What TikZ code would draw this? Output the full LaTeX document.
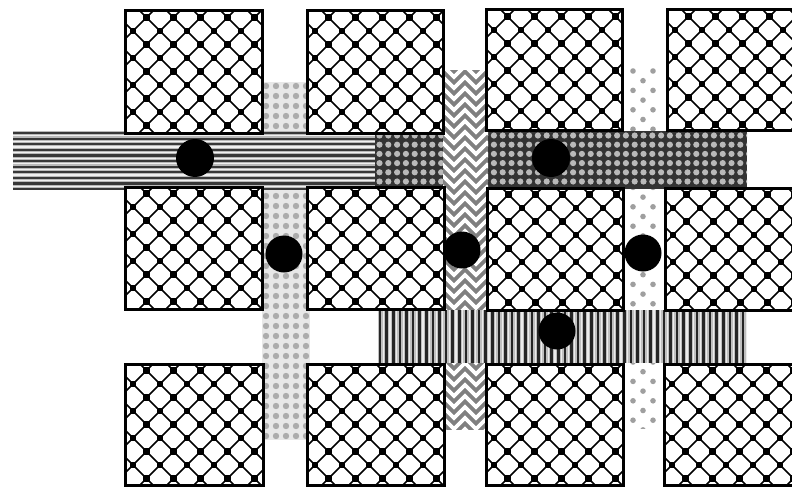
\documentclass[tikz,border=0pt]{standalone}
\tikzset{
  sqborder/.style={draw=black, line width=3pt},
  hatch/.style={black, line width=1.7pt},
  via/.style={circle, fill=black, inner sep=0pt, minimum size=37pt},
}
\newcommand\xsq[4]{%
  \begin{scope}
    \clip (#1,#2) rectangle (#3,#4);
    \fill[white] (#1,#2) rectangle (#3,#4);
    \begin{scope}[shift={(#1,#2)}]
      \foreach \n in {-6,...,9} {\draw[hatch] ({-12+27*\n-20},-20) -- ++(200,200);}
      \foreach \n in {-2,...,11} {\draw[hatch] ({28+27*\n+20},-20) -- ++(-200,200);}
      \foreach \i in {-1,...,5} {\foreach \j in {-1,...,5} {
        \fill ({8+27*\i-3.3},{20+27*\j-3.3}) rectangle ++(6.6,6.6);
        \fill ({21.5+27*\i-3.3},{6.5+27*\j-3.3}) rectangle ++(6.6,6.6);}}
    \end{scope}
  \end{scope}
  \draw[sqborder] (#1,#2) rectangle (#3,#4);
}
\begin{document}
\begin{tikzpicture}[x=1pt,y=-1pt]
\useasboundingbox (0,0) rectangle (792,487);
\clip (0,0) rectangle (792,487);

% V1: light dense dots
\begin{scope}
  \clip (262,82) rectangle (310,440);
  \fill[gray!18] (262,82) rectangle (310,440);
  \foreach \x in {266,276,...,306} {\foreach \y in {86,96,...,436} {\fill[gray!65] (\x,\y) circle (3.2pt);}}
\end{scope}

% V3: sparse dots
\begin{scope}
  \clip (623,67) rectangle (667,428);
  \fill[white] (623,67) rectangle (667,428);
  \foreach \y in {71,90.4,...,430} {\fill[gray!75] (633,\y) circle (2.8pt); \fill[gray!75] (653,\y) circle (2.8pt);}
  \foreach \y in {80.7,100.1,...,430} {\fill[gray!75] (643,\y) circle (2.8pt);}
\end{scope}

% B1: horizontal stripes
\begin{scope}
  \clip (13,131) rectangle (375,189);
  \fill[gray!55] (13,131) rectangle (375,189);
  \foreach \y in {133,138.6,...,190} {
    \draw[black!78, line width=2.2pt] (13,\y) -- (375,\y);
    \draw[gray!12, line width=1.2pt] (13,\y+2.8) -- (375,\y+2.8);}
\end{scope}

% B2: dark dots
\begin{scope}
  \clip (375,131) rectangle (747,189);
  \fill[black!80] (375,131) rectangle (747,189);
  \foreach \x in {379.5,388.3,...,750} {\foreach \y in {135.5,144.7,...,190} {\fill[gray!55] (\x,\y) circle (3.1pt);}}
\end{scope}

% V2: herringbone
\begin{scope}
  \clip (443,70) rectangle (488,430);
  \fill[black!50] (443,70) rectangle (488,430);
  \foreach \y in {55,66,...,440} {
    \draw[white, line width=3.6pt, line join=miter] (432,\y+11) -- (443,\y) -- (454,\y+11) -- (465,\y) -- (476,\y+11) -- (487,\y) -- (498,\y+11);}
\end{scope}

% B3: vertical stripes
\begin{scope}
  \clip (378,310) rectangle (747,363);
  \fill[gray!50] (378,310) rectangle (747,363);
  \foreach \x in {380,386.6,...,750} {
    \draw[black!85, line width=2.6pt] (\x,310) -- (\x,363);
    \draw[gray!15, line width=1.2pt] (\x+3.3,310) -- (\x+3.3,363);}
\end{scope}

% squares
\xsq{125}{11}{262}{133}
\xsq{307}{11}{443}{133}
\xsq{486}{10}{622}{130}
\xsq{667}{10}{800}{130}
\xsq{125}{187}{262}{309}
\xsq{307}{187}{444}{309}
\xsq{487}{188}{623}{310}
\xsq{665}{188}{800}{310}
\xsq{125}{364}{263}{485.5}
\xsq{307}{364}{444}{485.5}
\xsq{486}{364}{623}{485.5}
\xsq{664}{364}{800}{485.5}

% vias
\node[via, minimum size=38pt] (c1) at (195,158) {};
\node[via, minimum size=38pt] (c2) at (551,158) {};
\node[via] (c3) at (284,254) {};
\node[via] (c4) at (462,250) {};
\node[via] (c5) at (643,253) {};
\node[via] (c6) at (557,331) {};
\end{tikzpicture}
\end{document}
